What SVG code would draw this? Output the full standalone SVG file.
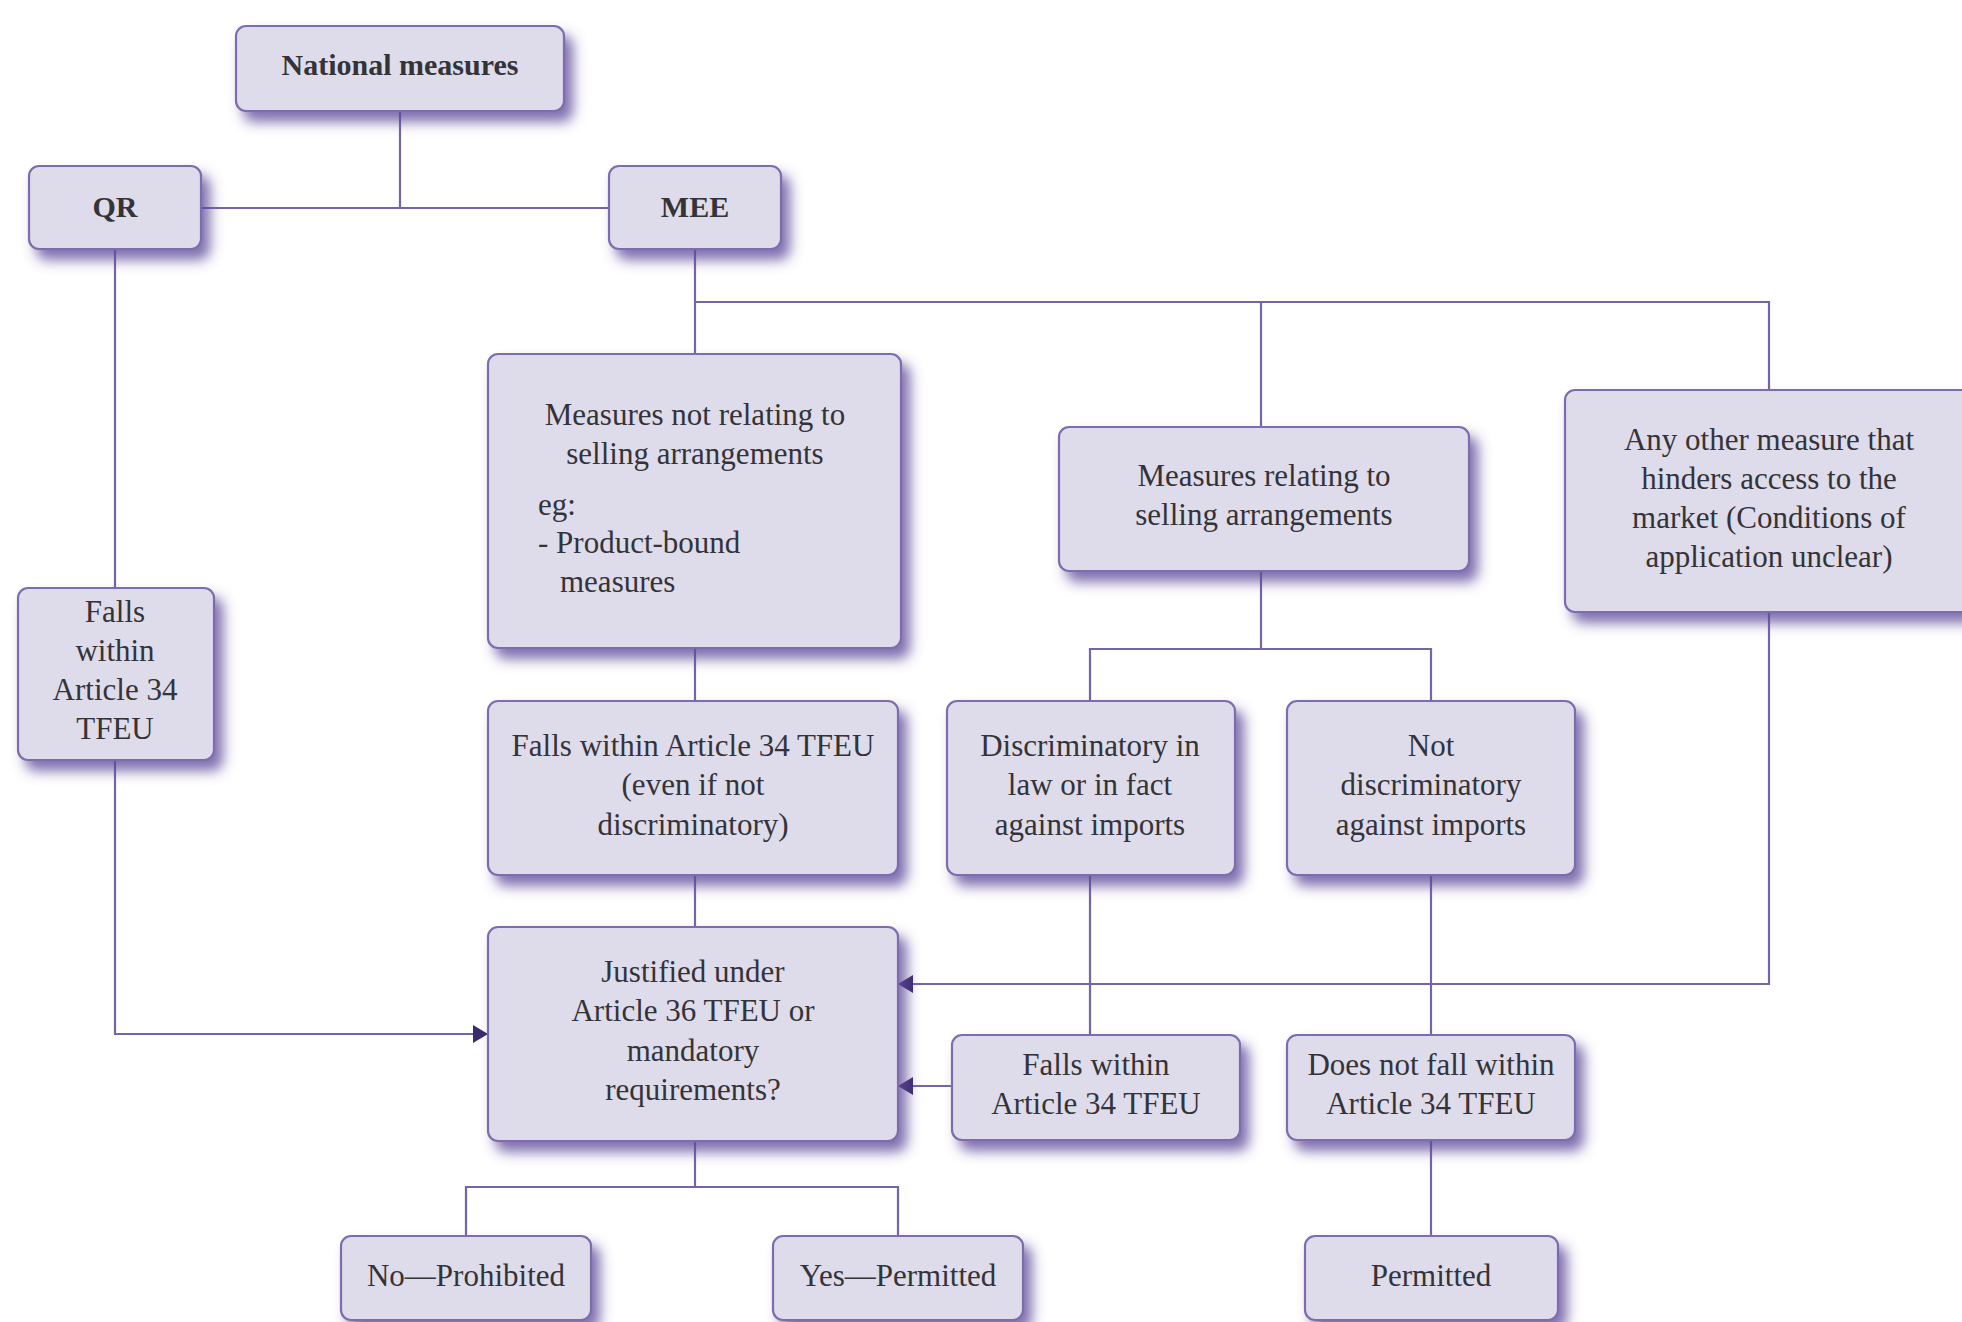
<svg xmlns="http://www.w3.org/2000/svg" width="1962" height="1322" viewBox="0 0 1962 1322">
<defs>
<filter id="sh" x="-10%" y="-10%" width="135%" height="150%">
<feDropShadow dx="8" dy="10" stdDeviation="6.5" flood-color="#5e4a9a" flood-opacity="0.8"/>
</filter>
<marker id="arr" viewBox="0 0 15 18" refX="15" refY="9" markerWidth="15" markerHeight="18" markerUnits="userSpaceOnUse" orient="auto">
<path d="M0,0 L15,9 L0,18 Z" fill="#3b2a6e"/>
</marker>
</defs>
<style>
.box{fill:#dedbea;stroke:#7d6dae;stroke-width:2.2;filter:url(#sh)}
.t{font-family:"Liberation Serif","Times New Roman",serif;font-size:31px;fill:#333338;text-anchor:middle}
.l{text-anchor:start}
.b{font-weight:bold;font-size:30px}
.c{fill:none;stroke:#7565a5;stroke-width:2.2}
</style>
<rect width="1962" height="1322" fill="#ffffff"/>

<g id="connectors">
<path class="c" d="M400,111 V208"/>
<path class="c" d="M201,208 H609"/>
<path class="c" d="M115,249 V588"/>
<path class="c" d="M115,760 V1034 H488" marker-end="url(#arr)"/>
<path class="c" d="M695,249 V354"/>
<path class="c" d="M695,302 H1769 V390"/>
<path class="c" d="M1261,302 V427"/>
<path class="c" d="M695,648 V701"/>
<path class="c" d="M695,875 V927"/>
<path class="c" d="M1261,571 V649"/>
<path class="c" d="M1090,701 V649 H1431 V701"/>
<path class="c" d="M1090,875 V1035"/>
<path class="c" d="M952,1086 H898" marker-end="url(#arr)"/>
<path class="c" d="M1769,612 V984 H898" marker-end="url(#arr)"/>
<path class="c" d="M1431,875 V1035"/>
<path class="c" d="M1431,1140 V1236"/>
<path class="c" d="M695,1141 V1187"/>
<path class="c" d="M466,1236 V1187 H898 V1236"/>
</g>

<g id="national">
<rect class="box" x="236" y="26" width="328" height="85" rx="10"/>
<text class="t b" x="400" y="75">National measures</text>
</g>
<g id="qr">
<rect class="box" x="29" y="166" width="172" height="83" rx="10"/>
<text class="t b" x="115" y="217">QR</text>
</g>
<g id="mee">
<rect class="box" x="609" y="166" width="172" height="83" rx="10"/>
<text class="t b" x="695" y="217">MEE</text>
</g>
<g id="falls-qr">
<rect class="box" x="18" y="588" width="196" height="172" rx="10"/>
<text class="t" x="115" y="622">Falls</text>
<text class="t" x="115" y="661">within</text>
<text class="t" x="115" y="700">Article 34</text>
<text class="t" x="115" y="739">TFEU</text>
</g>
<g id="not-selling">
<rect class="box" x="488" y="354" width="413" height="294" rx="10"/>
<text class="t" x="695" y="425">Measures not relating to</text>
<text class="t" x="695" y="464">selling arrangements</text>
<text class="t l" x="538" y="515">eg:</text>
<text class="t l" x="538" y="553">- Product-bound</text>
<text class="t l" x="560" y="592">measures</text>
</g>
<g id="selling">
<rect class="box" x="1059" y="427" width="410" height="144" rx="10"/>
<text class="t" x="1264" y="486">Measures relating to</text>
<text class="t" x="1264" y="525">selling arrangements</text>
</g>
<g id="other">
<rect class="box" x="1565" y="390" width="420" height="222" rx="10"/>
<text class="t" x="1769" y="450">Any other measure that</text>
<text class="t" x="1769" y="489">hinders access to the</text>
<text class="t" x="1769" y="528">market (Conditions of</text>
<text class="t" x="1769" y="567">application unclear)</text>
</g>
<g id="falls-even">
<rect class="box" x="488" y="701" width="410" height="174" rx="10"/>
<text class="t" x="693" y="756">Falls within Article 34 TFEU</text>
<text class="t" x="693" y="795">(even if not</text>
<text class="t" x="693" y="835">discriminatory)</text>
</g>
<g id="discrim">
<rect class="box" x="947" y="701" width="288" height="174" rx="10"/>
<text class="t" x="1090" y="756">Discriminatory in</text>
<text class="t" x="1090" y="795">law or in fact</text>
<text class="t" x="1090" y="835">against imports</text>
</g>
<g id="not-discrim">
<rect class="box" x="1287" y="701" width="288" height="174" rx="10"/>
<text class="t" x="1431" y="756">Not</text>
<text class="t" x="1431" y="795">discriminatory</text>
<text class="t" x="1431" y="835">against imports</text>
</g>
<g id="justified">
<rect class="box" x="488" y="927" width="410" height="214" rx="10"/>
<text class="t" x="693" y="982">Justified under</text>
<text class="t" x="693" y="1021">Article 36 TFEU or</text>
<text class="t" x="693" y="1061">mandatory</text>
<text class="t" x="693" y="1100">requirements?</text>
</g>
<g id="falls-right">
<rect class="box" x="952" y="1035" width="288" height="105" rx="10"/>
<text class="t" x="1096" y="1075">Falls within</text>
<text class="t" x="1096" y="1114">Article 34 TFEU</text>
</g>
<g id="not-fall">
<rect class="box" x="1287" y="1035" width="288" height="105" rx="10"/>
<text class="t" x="1431" y="1075">Does not fall within</text>
<text class="t" x="1431" y="1114">Article 34 TFEU</text>
</g>
<g id="prohibited">
<rect class="box" x="341" y="1236" width="250" height="84" rx="10"/>
<text class="t" x="466" y="1286">No—Prohibited</text>
</g>
<g id="yes-permitted">
<rect class="box" x="773" y="1236" width="250" height="84" rx="10"/>
<text class="t" x="898" y="1286">Yes—Permitted</text>
</g>
<g id="permitted">
<rect class="box" x="1305" y="1236" width="253" height="84" rx="10"/>
<text class="t" x="1431" y="1286">Permitted</text>
</g>
</svg>
